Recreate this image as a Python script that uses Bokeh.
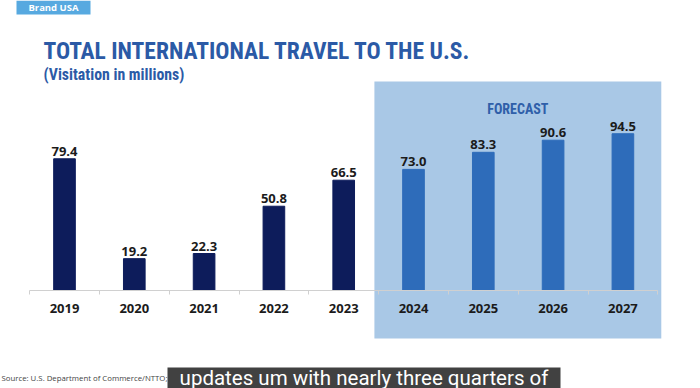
import numpy as np
from bokeh.plotting import figure
from bokeh.models import Range1d, FixedTicker, BoxAnnotation, Label
from bokeh.core.properties import value
from bokeh.embed import file_html
from bokeh.resources import INLINE

# ---------------- data ----------------
years_actual = ["2019", "2020", "2021", "2022", "2023"]
visits_actual = [79.4, 19.2, 22.3, 50.8, 66.5]
years_forecast = ["2024", "2025", "2026", "2027"]
visits_forecast = [73.0, 83.3, 90.6, 94.5]

title_text = "TOTAL INTERNATIONAL TRAVEL TO THE U.S."
subtitle_text = "(Visitation in millions)"
forecast_text = "FORECAST"
badge_text = "Brand USA"
source_text = "Source: U.S. Department of Commerce/NTTO;"
caption_text = "updates um with nearly three quarters of"

# ---------------- layout ----------------
W, H = 700, 388
years = years_actual + years_forecast
values_all = visits_actual + visits_forecast
n = len(years)
idx = list(range(n))
xa = idx[:len(years_actual)]
xf = idx[len(years_actual):]

px_per_cat = 69.8
first_center = 64.0      # px from frame left
baseline = 290.0         # px from frame top
px_per_unit = 1.659

x_start = -first_center / px_per_cat
x_end = x_start + W / px_per_cat
y_end = baseline / px_per_unit
y_start = -(H - baseline) / px_per_unit


def sy(y_from_top):
    return H - y_from_top


TITLE_FONT = "Roboto Condensed"
BODY_FONT = "Open Sans"
NAVY = "#0d1c5b"
BLUE = "#2e6cba"
TITLE_BLUE = "#2b5aa6"
TEXT_DARK = "#1b1b1b"

p = figure(width=W, height=H,
           x_range=Range1d(x_start, x_end), y_range=Range1d(y_start, y_end),
           output_backend="svg", toolbar_location=None,
           y_axis_location=None, min_border=0)
p.outline_line_color = None
p.xgrid.visible = False
p.ygrid.visible = False
p.background_fill_color = "white"
p.border_fill_color = "white"

# forecast background panel
fc_left = xf[0] - 0.56
fc_right = xf[-1] + 0.55
fc_box = BoxAnnotation(left=fc_left, right=fc_right,
                       top=(baseline - 81) / px_per_unit,
                       bottom=-(338 - baseline) / px_per_unit,
                       fill_color="#a9c8e6", fill_alpha=1.0,
                       line_color=None, level="underlay")
p.add_layout(fc_box)

# bars
p.vbar(x=xa, top=visits_actual, width=0.31, fill_color=NAVY, line_color=NAVY)
p.vbar(x=xf, top=visits_forecast, width=0.31, fill_color=BLUE, line_color=BLUE)

# value labels
p.text(x=idx, y=values_all, text=[f"{v:.1f}" for v in values_all],
       text_align="center", text_baseline="alphabetic", y_offset=-7.5,
       text_font=value(BODY_FONT), text_font_style="bold",
       text_font_size="13px", text_color=TEXT_DARK)

# x axis at the baseline
ax = p.xaxis[0]
ax.fixed_location = 0
ax.bounds = (-0.5, n - 0.5)
ax.ticker = FixedTicker(ticks=[float(i) for i in idx],
                        minor_ticks=[i - 0.5 for i in range(n + 1)])
ax.major_label_overrides = {i: y for i, y in zip(idx, years)}
ax.axis_line_color = "#d0d0d0"
ax.major_tick_line_color = None
ax.major_tick_out = 0
ax.major_tick_in = 0
ax.minor_tick_line_color = "#d0d0d0"
ax.minor_tick_out = 4
ax.minor_tick_in = 0
ax.major_label_text_font = BODY_FONT
ax.major_label_text_font_style = "bold"
ax.major_label_text_font_size = "13px"
ax.major_label_text_color = TEXT_DARK
ax.major_label_standoff = 9

# FORECAST heading
p.add_layout(Label(x=(fc_left + fc_right) / 2, y=sy(108.5),
                   x_units="data", y_units="screen", text=forecast_text,
                   text_align="center", text_baseline="alphabetic",
                   text_font=TITLE_FONT, text_font_style="bold",
                   text_font_size="14px", text_color="#2f5fa9"))

# title & subtitle
p.add_layout(Label(x=43, y=sy(50.5), x_units="screen", y_units="screen",
                   text=title_text, text_baseline="alphabetic",
                   text_font=TITLE_FONT, text_font_style="bold",
                   text_font_size="23.5px", text_color=TITLE_BLUE))
p.add_layout(Label(x=43, y=sy(73.5), x_units="screen", y_units="screen",
                   text=subtitle_text, text_baseline="alphabetic",
                   text_font=TITLE_FONT, text_font_style="bold",
                   text_font_size="15.8px", text_color=TITLE_BLUE))

# badge
p.add_layout(BoxAnnotation(left=16, right=90, top=sy(0), bottom=sy(14),
                           left_units="screen", right_units="screen",
                           top_units="screen", bottom_units="screen",
                           fill_color="#57a9e0", fill_alpha=1.0, line_color=None))
p.add_layout(Label(x=53, y=sy(7), x_units="screen", y_units="screen",
                   text=badge_text, text_align="center", text_baseline="middle",
                   text_font=BODY_FONT, text_font_style="bold",
                   text_font_size="9.5px", text_color="white"))

# source
p.add_layout(Label(x=1, y=sy(377.5), x_units="screen", y_units="screen",
                   text=source_text, text_baseline="middle",
                   text_font=BODY_FONT, text_font_size="7.8px", text_color="#444444"))

# caption overlay
p.add_layout(BoxAnnotation(left=167, right=560, top=sy(367), bottom=sy(388),
                           left_units="screen", right_units="screen",
                           top_units="screen", bottom_units="screen",
                           fill_color="#333333", fill_alpha=0.93, line_color=None))
p.add_layout(Label(x=363.5, y=sy(377), x_units="screen", y_units="screen",
                   text=caption_text, text_align="center", text_baseline="middle",
                   text_font="Roboto", text_font_size="20.5px", text_color="white"))

open("out.html", "w").write(file_html(p, INLINE))
